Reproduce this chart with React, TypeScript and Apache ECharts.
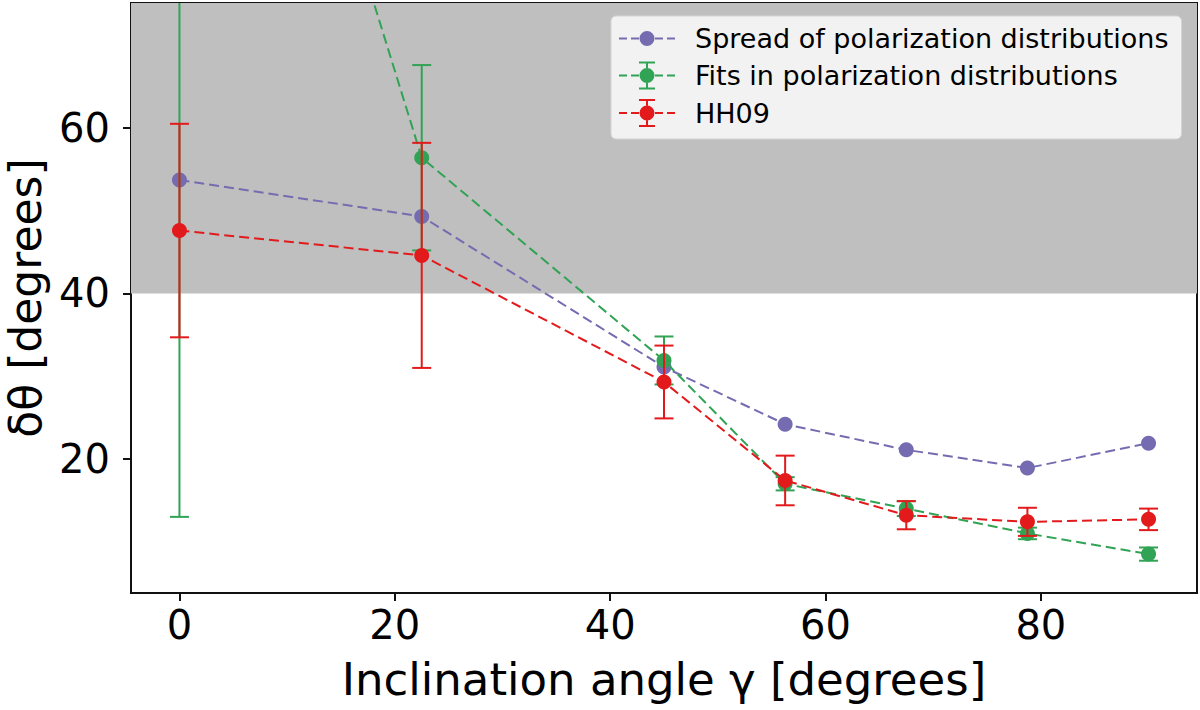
import * as React from "react";
import * as echarts from "echarts";

// inclination angle γ (degrees)
const angles = [0, 22.5, 45, 56.25, 67.5, 78.75, 90];
const spread = [53.7, 49.3, 31.1, 24.2, 21.1, 18.9, 21.9];
const fits = [151, 56.4, 31.9, 17.0, 14.0, 11.0, 8.5];
const fitsErr = [138, 11.2, 2.9, 0.8, 0.9, 0.7, 0.8];
const hh09 = [47.6, 44.6, 29.3, 17.4, 13.2, 12.4, 12.7];
const hh09Err = [12.9, 13.6, 4.4, 3.0, 1.7, 1.7, 1.3];

const xTicks = [0, 20, 40, 60, 80];
const yTicks = [20, 40, 60];
const X_MIN = -4.5;
const X_MAX = 94.5;
const Y_MIN = 3.8;
const Y_MAX = 75.1;
const SHADE_FROM = 40;

const PURPLE = "#756bb1";
const GREEN = "#31a354";
const RED = "#e31a1c";
const FONT = "DejaVu Sans";

const NAMES = [
  "Spread of polarization distributions",
  "Fits in polarization distributions",
  "HH09",
];

// legend handles, drawn in a 56 x 28 box
const DASHES = "M0,13H8V15H0Z M12,13H20V15H12Z M36,13H44V15H36Z M48,13H56V15H48Z";
const DOT = "M20.5,14A7.5,7.5 0 1 1 35.5,14A7.5,7.5 0 1 1 20.5,14Z";
const BAR = "M20,0H36V2H20Z M27,2H29V6.5H27Z M27,21.5H29V26H27Z M20,26H36V28H20Z";
const ICON_PLAIN = `path://${DASHES} ${DOT}`;
const ICON_ERR = `path://${DASHES} ${DOT} ${BAR}`;

function errorSeries(name: string, vals: number[], errs: number[], color: string, z: number) {
  return {
    name,
    type: "custom",
    z,
    silent: true,
    encode: { x: 0, y: [1, 2] },
    data: angles.map((x, i) => [x, vals[i] - errs[i], vals[i] + errs[i]]),
    renderItem: (params: any, api: any) => {
      const cs = params.coordSys;
      const x = api.value(0);
      const lo = api.coord([x, api.value(1)]);
      const hi = api.coord([x, api.value(2)]);
      const top = Math.max(hi[1], cs.y);
      const bottom = Math.min(lo[1], cs.y + cs.height);
      const style = { stroke: color, lineWidth: 2 };
      const children: any[] = [
        { type: "line", shape: { x1: lo[0], y1: top, x2: lo[0], y2: bottom }, style },
      ];
      if (hi[1] >= cs.y)
        children.push({ type: "line", shape: { x1: hi[0] - 9.5, y1: hi[1], x2: hi[0] + 9.5, y2: hi[1] }, style });
      if (lo[1] <= cs.y + cs.height)
        children.push({ type: "line", shape: { x1: lo[0] - 9.5, y1: lo[1], x2: lo[0] + 9.5, y2: lo[1] }, style });
      return { type: "group", children };
    },
  };
}

function lineSeries(name: string, vals: number[], color: string, z: number) {
  return {
    name,
    type: "line",
    z,
    data: angles.map((x, i) => [x, vals[i]]),
    symbol: "circle",
    symbolSize: 15,
    showSymbol: true,
    clip: true,
    itemStyle: { color, borderWidth: 0 },
    lineStyle: { color, width: 2, type: [10, 5] },
    emphasis: { disabled: true },
  };
}

export default function App() {
  const elRef = React.useRef<HTMLDivElement | null>(null);

  React.useEffect(() => {
    if (!elRef.current) return;
    const chart = echarts.init(elRef.current, null, { renderer: "svg" });

    const axisText = { fontFamily: FONT, color: "#000" };

    const option: any = {
      animation: false,
      backgroundColor: "#fff",
      grid: {
        left: 131,
        right: 3,
        top: 3,
        bottom: 117,
        outerBoundsMode: "none",
        show: true,
        borderColor: "#111",
        borderWidth: 2,
        backgroundColor: "transparent",
      },
      legend: {
        orient: "vertical",
        left: 611,
        top: 16,
        itemWidth: 56,
        itemHeight: 28,
        itemGap: 9.5,
        padding: [9, 13, 12, 8],
        backgroundColor: "#f2f2f2",
        borderColor: "#d4d4d4",
        borderWidth: 1,
        borderRadius: 5,
        selectedMode: false,
        symbolKeepAspect: true,
        itemStyle: { borderWidth: 0 },
        textStyle: { ...axisText, fontSize: 27, padding: [0, 0, 0, 15] },
        data: [
          { name: NAMES[0], icon: ICON_PLAIN },
          { name: NAMES[1], icon: ICON_ERR },
          { name: NAMES[2], icon: ICON_ERR },
        ],
      },
      xAxis: {
        type: "value",
        min: X_MIN,
        max: X_MAX,
        name: "Inclination angle γ [degrees]",
        nameLocation: "middle",
        nameGap: 64,
        nameTextStyle: { ...axisText, fontSize: 45 },
        axisLine: { show: true, onZero: false, lineStyle: { color: "#111", width: 2 } },
        axisTick: { show: true, customValues: xTicks, length: 8, lineStyle: { color: "#111", width: 2 } },
        axisLabel: { customValues: xTicks, ...axisText, fontSize: 40, margin: 12 },
        splitLine: { show: false },
      },
      yAxis: {
        type: "value",
        min: Y_MIN,
        max: Y_MAX,
        name: "δθ [degrees]",
        nameLocation: "middle",
        nameRotate: 90,
        nameGap: 84,
        nameTextStyle: { ...axisText, fontSize: 44, lineHeight: 44 },
        axisLine: { show: true, onZero: false, lineStyle: { color: "#111", width: 2 } },
        axisTick: { show: true, customValues: yTicks, length: 8, lineStyle: { color: "#111", width: 2 } },
        axisLabel: { customValues: yTicks, ...axisText, fontSize: 40, margin: 21 },
        splitLine: { show: false },
      },
      series: [
        {
          name: "shade",
          type: "line",
          z: 1,
          data: [],
          silent: true,
          markArea: {
            silent: true,
            itemStyle: { color: "#bfbfbf", opacity: 1 },
            data: [[{ yAxis: SHADE_FROM }, { yAxis: Y_MAX }]],
          },
        },
        lineSeries(NAMES[0], spread, PURPLE, 3),
        errorSeries("fits-err", fits, fitsErr, GREEN, 4),
        lineSeries(NAMES[1], fits, GREEN, 4),
        errorSeries("hh09-err", hh09, hh09Err, RED, 5),
        lineSeries(NAMES[2], hh09, RED, 5),
      ],
    };

    chart.setOption(option);
    return () => chart.dispose();
  }, []);

  return (
    <div
      ref={elRef}
      style={{ position: "fixed", left: 0, top: 0, width: 1200, height: 710, background: "#fff" }}
    />
  );
}
